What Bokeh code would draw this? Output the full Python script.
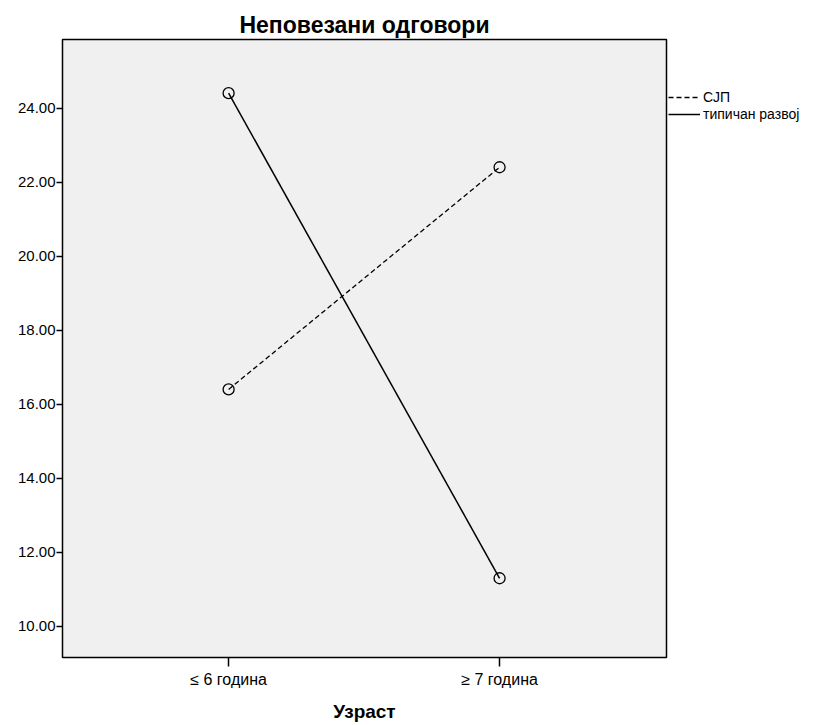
from bokeh.plotting import figure
from bokeh.models import Range1d, FixedTicker, PrintfTickFormatter, Legend, LegendItem
from bokeh.embed import file_html
from bokeh.resources import INLINE

# Data
categories = ["≤ 6 година", "≥ 7 година"]
x_pos = [0, 1]
sjp = [16.4, 22.4]
typical = [24.4, 11.3]
y_ticks = [10, 12, 14, 16, 18, 20, 22, 24]
series_names = ["СЈП", "типичан развој"]

FONT = "Liberation Sans"

p = figure(output_backend="svg", toolbar_location=None,
           x_range=Range1d(-0.613, 1.616), y_range=Range1d(9.16, 25.85),
           frame_width=604, frame_height=618,
           min_border_left=62, min_border_right=10, min_border_top=39, min_border_bottom=0,
           background_fill_color="#f0f0f0", border_fill_color="white",
           outline_line_color="black", outline_line_width=1.5)

p.title.text = "Неповезани одговори"
p.title.align = "center"
p.title.text_font = FONT
p.title.text_font_size = "23px"
p.title.text_font_style = "bold"
p.title.text_color = "black"
p.title.standoff = 3

p.xgrid.visible = False
p.ygrid.visible = False

# axes
p.yaxis.ticker = FixedTicker(ticks=y_ticks)
p.yaxis.formatter = PrintfTickFormatter(format="%.2f")
p.yaxis.axis_line_color = None
p.yaxis.major_tick_out = 6
p.yaxis.major_tick_in = 0
p.yaxis.minor_tick_line_color = None
p.yaxis.major_tick_line_width = 1.5
p.yaxis.major_label_text_font = FONT
p.yaxis.major_label_text_font_size = "15px"
p.yaxis.major_label_text_color = "black"
p.yaxis.major_label_standoff = 1

p.xaxis.ticker = FixedTicker(ticks=x_pos)
p.xaxis.major_label_overrides = {x: c for x, c in zip(x_pos, categories)}
p.xaxis.axis_line_color = None
p.xaxis.major_tick_out = 9
p.xaxis.major_tick_in = 0
p.xaxis.minor_tick_line_color = None
p.xaxis.major_tick_line_width = 1.5
p.xaxis.major_label_text_font = FONT
p.xaxis.major_label_text_font_size = "16px"
p.xaxis.major_label_text_color = "black"
p.xaxis.major_label_standoff = 4
p.xaxis.axis_label = "Узраст"
p.xaxis.axis_label_text_font = FONT
p.xaxis.axis_label_text_font_size = "19px"
p.xaxis.axis_label_text_font_style = "bold"
p.xaxis.axis_label_text_color = "black"
p.xaxis.axis_label_standoff = 10

# lines
l1 = p.line(x_pos, sjp, line_color="black", line_width=1.3, line_dash="5 3")
l2 = p.line(x_pos, typical, line_color="black", line_width=1.5)
p.scatter(x_pos, sjp, marker="circle", size=11, fill_color=None, line_color="black", line_width=1.3)
p.scatter(x_pos, typical, marker="circle", size=11, fill_color=None, line_color="black", line_width=1.3)

legend = Legend(items=[LegendItem(label=series_names[0], renderers=[l1]),
                       LegendItem(label=series_names[1], renderers=[l2])],
                location=(2, 535), border_line_color=None, background_fill_alpha=0,
                label_text_font=FONT, label_text_font_size="14px", label_text_color="black",
                glyph_width=32, glyph_height=14, label_standoff=3, spacing=1,
                padding=0, margin=0, label_height=14)
p.add_layout(legend, "right")

open("out.html", "w").write(file_html(p, INLINE))
